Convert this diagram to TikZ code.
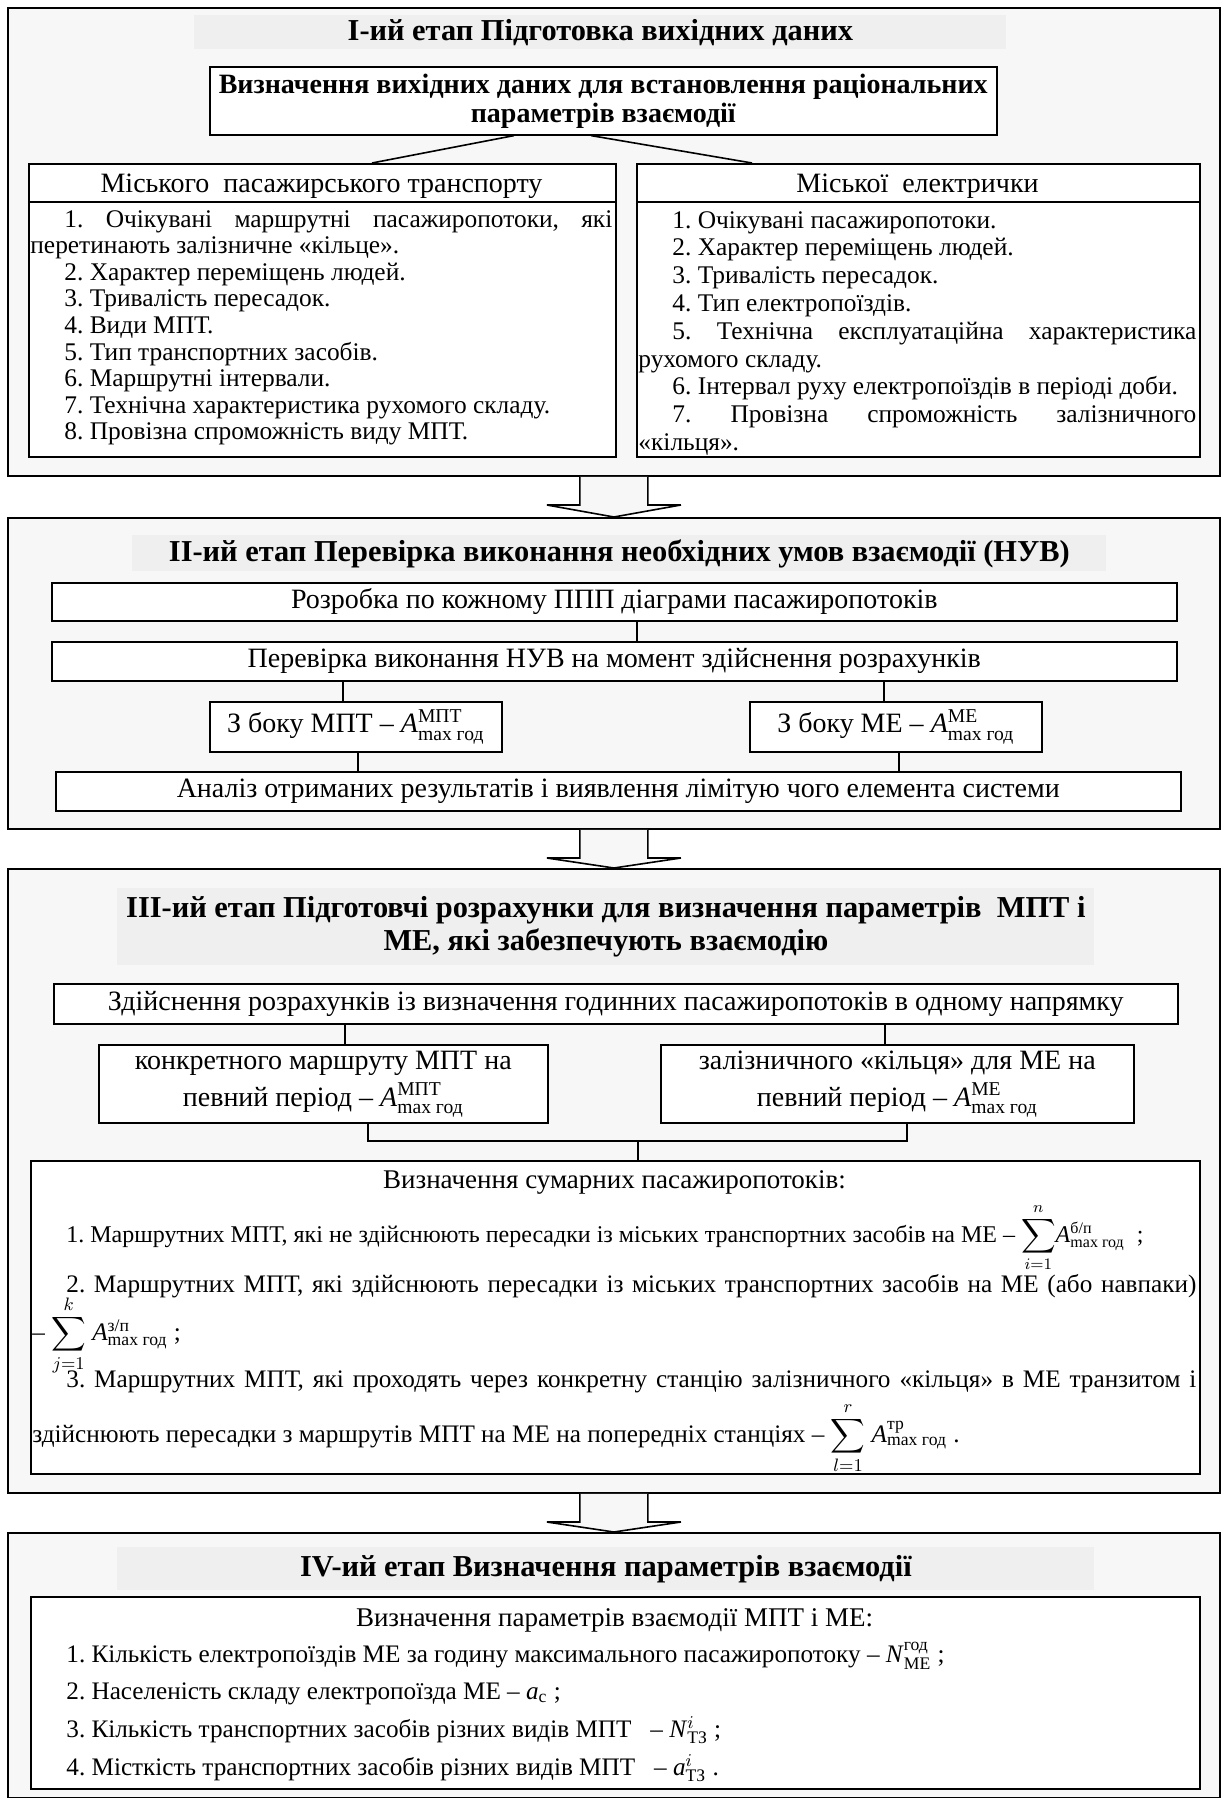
\documentclass[tikz,border=0pt]{standalone}
\usepackage{fontspec}
\usepackage{amsmath}
\setmainfont{Liberation Serif}
\usetikzlibrary{calc}
\frenchspacing
\definecolor{stagebg}{RGB}{247,247,247}
\definecolor{bandbg}{RGB}{239,239,239}
\newcommand\Am[1]{\textit{A}$^{\text{#1}}_{\text{max год}}$}
\newcommand\mkbox[7]{\node[#6, minimum width={(#4-#2)*0.5pt}, minimum height={(#5-#3)*0.5pt}] (#1) at (#2,#3) {#7};}
\begin{document}
\begin{tikzpicture}[x=0.5pt,y=-0.5pt,
  stage/.style={draw, line width=0.9pt, fill=stagebg, anchor=north west, inner sep=0},
  band/.style={fill=bandbg, anchor=north west, inner sep=0, align=center, font=\fontsize{15.2}{16.5}\selectfont\bfseries},
  wbox/.style={draw, line width=0.8pt, fill=white, anchor=north west, inner sep=0, align=center, font=\fontsize{14}{16}\selectfont},
  conn/.style={line width=0.8pt},
  hollow/.style={draw, line width=0.8pt, fill=stagebg},
  txt/.style={anchor=base west, inner sep=0, font=\fontsize{12.6}{14}\selectfont},
  head/.style={anchor=base, inner sep=0, font=\fontsize{13.5}{15}\selectfont},
]
\fill[white] (0,0) rectangle (1221,1798);
\useasboundingbox (0,0) rectangle (1221,1798);

% ---------------- Stage I ----------------
\mkbox{s1}{7}{7}{1219}{475}{stage}{}
\mkbox{b1}{194}{15}{1006}{49}{band}{І-ий етап Підготовка вихідних даних}
\mkbox{m}{209}{66}{996}{134}{wbox,font=\fontsize{14}{14.5}\selectfont\bfseries}{Визначення вихідних даних для встановлення раціональних\\параметрів взаємодії}
\mkbox{L}{28}{163}{615}{456}{wbox}{}
\mkbox{R}{636}{163}{1199}{456}{wbox}{}
\draw[conn] ($(L.north west)+(0,39)$) -- ($(L.north east)+(0,39)$);
\draw[conn] ($(R.north west)+(0,39)$) -- ($(R.north east)+(0,39)$);
\node[head, font=\fontsize{14}{16}\selectfont] (Lh) at (321.5,192) {Міського\ \ пасажирського транспорту};
\node[head, font=\fontsize{14}{16}\selectfont] (Rh) at (917.5,192) {Міської\ \ електрички};
\draw[conn] ($(m.south west)+(305,0)$) -- ($(L.north west)+(344,0)$);
\draw[conn] ($(m.south west)+(382,0)$) -- ($(R.north west)+(116,0)$);
\node[txt] (Lb) at (30,227) {\begin{minipage}[t]{291pt}\fontsize{12.7}{13.3}\selectfont
\setlength\parindent{17pt}\hyphenpenalty=10000\exhyphenpenalty=10000
1. Очікувані маршрутні пасажиропотоки, які\linebreak перетинають залізничне «кільце».\par
2. Характер переміщень людей.\par
3. Тривалість пересадок.\par
4. Види МПТ.\par
5. Тип транспортних засобів.\par
6. Маршрутні інтервали.\par
7. Технічна характеристика рухомого складу.\par
8. Провізна спроможність виду МПТ.\par
\end{minipage}};
\node[txt] (Rb) at (638,228) {\begin{minipage}[t]{279pt}\fontsize{12.7}{13.9}\selectfont
\setlength\parindent{17pt}\hyphenpenalty=10000\exhyphenpenalty=10000
1. Очікувані пасажиропотоки.\par
2. Характер переміщень людей.\par
3. Тривалість пересадок.\par
4. Тип електропоїздів.\par
5. Технічна експлуатаційна характеристика\linebreak рухомого складу.\par
6. Інтервал руху електропоїздів в періоді доби.\par
7. Провізна спроможність залізничного\linebreak «кільця».\par
\end{minipage}};

% ---------------- Stage II ----------------
\mkbox{s2}{7}{517}{1219}{828}{stage}{}
\mkbox{b2}{132}{535}{1106}{571}{band}{ІІ-ий етап Перевірка виконання необхідних умов взаємодії (НУВ)}
\mkbox{r1}{51}{582}{1176}{620}{wbox}{Розробка по кожному ППП діаграми пасажиропотоків}
\mkbox{r2}{51}{641}{1176}{680}{wbox}{Перевірка виконання НУВ на момент здійснення розрахунків}
\mkbox{r3}{209}{701}{501}{751}{wbox}{З боку МПТ – \Am{МПТ}}
\mkbox{r4}{749}{701}{1041}{751}{wbox}{З боку МЕ – \Am{МЕ}}
\mkbox{r5}{55}{771}{1180}{810}{wbox}{Аналіз отриманих результатів і виявлення лімітую чого елемента системи}
\draw[conn] ($(r1.south west)+(586,0)$) -- ($(r2.north west)+(586,0)$);
\draw[conn] ($(r2.south west)+(292,0)$) -- ($(r3.north west)+(134,0)$);
\draw[conn] ($(r2.south west)+(833,0)$) -- ($(r4.north west)+(135,0)$);
\draw[conn] ($(r3.south west)+(149,0)$) -- ($(r5.north west)+(303,0)$);
\draw[conn] ($(r4.south west)+(150,0)$) -- ($(r5.north west)+(844,0)$);

% ---------------- Stage III ----------------
\mkbox{s3}{7}{868}{1219}{1492}{stage}{}
\mkbox{b3}{117}{888}{1094}{965}{band}{ІІІ-ий етап Підготовчі розрахунки для визначення параметрів\ \ МПТ і\\МЕ, які забезпечують взаємодію}
\mkbox{t1}{53}{983}{1177}{1023}{wbox}{Здійснення розрахунків із визначення годинних пасажиропотоків в одному напрямку}
\mkbox{t2}{98}{1044}{547}{1122}{wbox,font=\fontsize{14}{18.5}\selectfont}{конкретного маршруту МПТ на\\певний період – \Am{МПТ}}
\mkbox{t3}{660}{1044}{1133}{1122}{wbox,font=\fontsize{14}{18.5}\selectfont}{залізничного «кільця» для МЕ на\\певний період – \Am{МЕ}}
\mkbox{t4}{30}{1160}{1199}{1473}{wbox}{}
\coordinate (j) at (638,1141);
\draw[conn] ($(t1.south west)+(292,0)$) -- ($(t2.north west)+(247,0)$);
\draw[conn] ($(t1.south west)+(832,0)$) -- ($(t3.north west)+(225,0)$);
\draw[conn] ($(t2.south west)+(270,0)$) |- (j) -| ($(t3.south west)+(247,0)$);
\draw[conn] (j) -- (t4.north -| j);
\node[head] (t4h) at (614.5,1188) {Визначення сумарних пасажиропотоків:};
\node[txt, font=\fontsize{12}{14}\selectfont] (t4a) at (66,1242) {1. Маршрутних МПТ, які не здійснюють пересадки із міських транспортних засобів на МЕ – $\displaystyle\sum_{i=1}^{n}$\Am{б/п}\ \ ;};
\node[txt] (t4b) at (66,1292) {\makebox[565pt][s]{2. Маршрутних МПТ, які здійснюють пересадки із міських транспортних засобів на МЕ (або навпаки)}};
\node[txt] (t4c) at (32,1340) {– $\displaystyle\sum_{j=1}^{k}$ \Am{з/п} ;};
\node[txt] (t4d) at (66,1387) {\makebox[565pt][s]{3. Маршрутних МПТ, які проходять через конкретну станцію залізничного «кільця» в МЕ транзитом і}};
\node[txt] (t4e) at (32,1442) {здійснюють пересадки з маршрутів МПТ на МЕ на попередніх станціях – $\displaystyle\sum_{l=1}^{r}$ \Am{тр} .};

% ---------------- Stage IV ----------------
\mkbox{s4}{7}{1532}{1219}{1797}{stage}{}
\mkbox{b4}{117}{1547}{1094}{1590}{band}{IV-ий етап Визначення параметрів взаємодії}
\mkbox{u1}{30}{1596}{1199}{1788}{wbox}{}
\node[head] (u1h) at (614.5,1626) {Визначення параметрів взаємодії МПТ і МЕ:};
\node[txt] (u1a) at (66,1662) {1. Кількість електропоїздів МЕ за годину максимального пасажиропотоку – \textit{N}$^{\text{год}}_{\text{МЕ}}$ ;};
\node[txt] (u1b) at (66,1699) {2. Населеність складу електропоїзда МЕ – \textit{a}$_{\text{с}}$ ;};
\node[txt] (u1c) at (66,1737) {3. Кількість транспортних засобів різних видів МПТ\ \ \ – \textit{N}$^{i}_{\text{ТЗ}}$ ;};
\node[txt] (u1d) at (66,1775) {4. Місткість транспортних засобів різних видів МПТ\ \ \ – \textit{a}$^{i}_{\text{ТЗ}}$ .};

% ---------------- hollow arrows ----------------
\draw[hollow] ([xshift=-17pt]s1.south) |- ([xshift=-33.5pt,yshift=6pt]s2.north) -- (s2.north) -- ([xshift=33.5pt,yshift=6pt]s2.north) -| ([xshift=17pt]s1.south);
\draw[hollow] ([xshift=-17pt]s2.south) |- ([xshift=-33.5pt,yshift=5pt]s3.north) -- (s3.north) -- ([xshift=33.5pt,yshift=5pt]s3.north) -| ([xshift=17pt]s2.south);
\draw[hollow] ([xshift=-17pt]s3.south) |- ([xshift=-33.5pt,yshift=5pt]s4.north) -- (s4.north) -- ([xshift=33.5pt,yshift=5pt]s4.north) -| ([xshift=17pt]s3.south);
\end{tikzpicture}
\end{document}
